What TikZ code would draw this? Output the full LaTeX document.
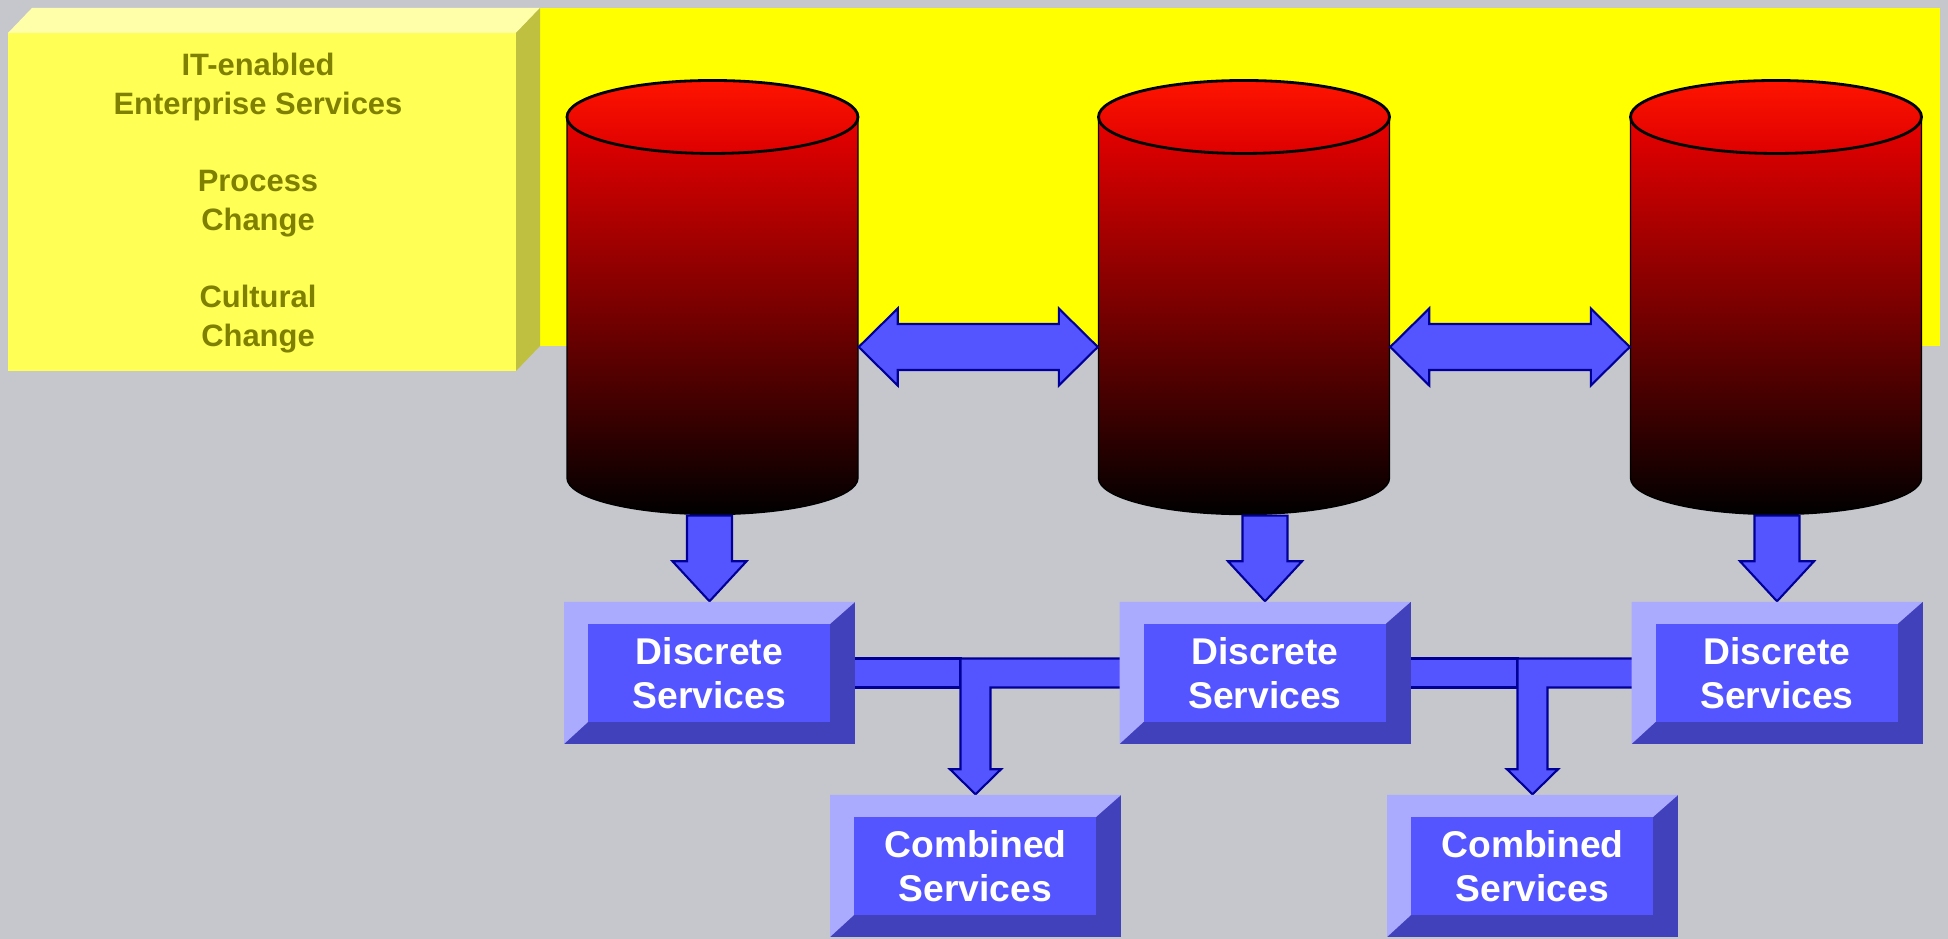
\documentclass[tikz,border=0pt]{standalone}
\usepackage{fontspec}
\setmainfont{Liberation Sans}
\usetikzlibrary{calc}
\pgfdeclarelayer{bg}
\pgfsetlayers{bg,main}
\definecolor{backgray}{HTML}{C6C7CC}
\definecolor{bandyellow}{HTML}{FFFF00}
\definecolor{boxfront}{HTML}{FFFF55}
\definecolor{boxtop}{HTML}{FFFFAA}
\definecolor{boxside}{HTML}{C0C040}
\definecolor{olivetext}{HTML}{808000}
\definecolor{svcface}{HTML}{5555FF}
\definecolor{bevlight}{HTML}{AAAAFF}
\definecolor{bevdark}{HTML}{4141BB}
\definecolor{linkline}{HTML}{000099}
\definecolor{drumtop}{HTML}{FF1400}
\definecolor{drumlow}{HTML}{DD0000}

\begin{document}
\begin{tikzpicture}[
	%baseline,
	scale=1,
	svcbox/.style={fill=bevdark, minimum width=2.91cm, minimum height=1.42cm, inner sep=0pt,
		text=white, align=center, font=\fontsize{10.6}{12.5}\selectfont\bfseries,
		path picture={
			\fill[bevlight] (path picture bounding box.south west) -- (path picture bounding box.north west)
				-- (path picture bounding box.north east) -- ([shift={(-0.25,-0.22)}]path picture bounding box.north east)
				-- ([shift={(0.24,0.22)}]path picture bounding box.south west) -- cycle;
			\fill[svcface] ([shift={(0.24,0.22)}]path picture bounding box.south west)
				rectangle ([shift={(-0.25,-0.22)}]path picture bounding box.north east);
		}},
	link/.style={fill=svcface, draw=linkline, line width=0.6pt, line join=miter},
	]
	\useasboundingbox (0,0) rectangle (19.48,9.39);
	
	\node[svcbox] (d1) at (7.095,2.66) {Discrete\\Services};
	\node[svcbox] (d2) at (12.65,2.66) {Discrete\\Services};
	\node[svcbox] (d3) at (17.77,2.66) {Discrete\\Services};
	\node[svcbox] (c1) at (9.755,0.73) {Combined\\Services};
	\node[svcbox] (c2) at (15.325,0.73) {Combined\\Services};
	\node[text=olivetext, align=center, font=\fontsize{8.8}{11}\selectfont\bfseries] (goals) at (2.58,7.36)
		{IT-enabled\\Enterprise Services\\[11pt]Process\\Change\\[11pt]Cultural\\Change};
	
	\begin{pgfonlayer}{bg}
	\fill[backgray] (0,0) rectangle (19.48,9.39);
	\fill[bandyellow] (5.40,5.93) rectangle (19.40,9.31);
	\fill[boxfront] (0.08,5.68) rectangle (5.16,9.06);
	\fill[boxtop] (0.08,9.06) -- (5.16,9.06) -- (5.40,9.31) -- (0.32,9.31) -- cycle;
	\fill[boxside] (5.16,5.68) -- (5.16,9.06) -- (5.40,9.31) -- (5.40,5.93) -- cycle;
	
	\coordinate (lvl) at (0,5.92);
	\foreach \x/\nm in {7.125/A,12.44/B,17.76/C}{
		\shade[top color=red, bottom color=black] (\x-1.455,8.22) -- (\x-1.455,4.61)
			arc[start angle=180, end angle=360, x radius=1.455, y radius=0.365] -- (\x+1.455,8.22)
			arc[start angle=0, end angle=180, x radius=1.455, y radius=0.365] -- cycle;
		\shade[top color=drumtop, bottom color=drumlow] (\x,8.22) ellipse[x radius=1.455, y radius=0.365];
		\draw[line width=0.4pt] (\x-1.455,8.22) -- (\x-1.455,4.61)
			arc[start angle=180, end angle=360, x radius=1.455, y radius=0.365] -- (\x+1.455,8.22);
		\draw[line width=0.8pt] (\x,8.22) ellipse[x radius=1.455, y radius=0.365];
		\node[minimum width=2.91cm, minimum height=4.345cm, inner sep=0pt] (db\nm) at (\x,6.4125) {};
	}
	
	\draw[link] (dbA.east |- lvl) -- ++(0.39,0.385) -- ++(0,-0.155) -- ($(dbB.west |- lvl)+(-0.39,0.23)$)
		-- ++(0,0.155) -- (dbB.west |- lvl) -- ++(-0.39,-0.385) -- ++(0,0.155)
		-- ($(dbA.east |- lvl)+(0.39,-0.23)$) -- ++(0,-0.155) -- cycle;
	\draw[link] (dbB.east |- lvl) -- ++(0.39,0.385) -- ++(0,-0.155) -- ($(dbC.west |- lvl)+(-0.39,0.23)$)
		-- ++(0,0.155) -- (dbC.west |- lvl) -- ++(-0.39,-0.385) -- ++(0,0.155)
		-- ($(dbB.east |- lvl)+(0.39,-0.23)$) -- ++(0,-0.155) -- cycle;
	
	\draw[link] (d1.north) -- ++(0.37,0.40) -- ++(-0.145,0) -- ($(d1.north |- dbA.south)+(0.225,0)$)
		-- ++(-0.45,0) -- ($(d1.north)+(-0.225,0.40)$) -- ++(-0.145,0) -- cycle;
	\draw[link] (d2.north) -- ++(0.37,0.40) -- ++(-0.145,0) -- ($(d2.north |- dbB.south)+(0.225,0)$)
		-- ++(-0.45,0) -- ($(d2.north)+(-0.225,0.40)$) -- ++(-0.145,0) -- cycle;
	\draw[link] (d3.north) -- ++(0.37,0.40) -- ++(-0.145,0) -- ($(d3.north |- dbC.south)+(0.225,0)$)
		-- ++(-0.45,0) -- ($(d3.north)+(-0.225,0.40)$) -- ++(-0.145,0) -- cycle;
	
	\draw[link] ($(d1.east)+(-0.05,-0.145)$) rectangle ($(c1.north |- d1.east)+(-0.15,0.145)$);
	\draw[link] ($(d2.west)+(0.05,0.145)$) -| ($(c1.north)+(-0.15,0.25)$) -- ++(-0.105,0) -- (c1.north)
		-- ++(0.255,0.25) -- ++(-0.105,0) |- ($(d2.west)+(0.05,-0.145)$) -- cycle;
	\draw[link] ($(d2.east)+(-0.05,-0.145)$) rectangle ($(c2.north |- d2.east)+(-0.15,0.145)$);
	\draw[link] ($(d3.west)+(0.05,0.145)$) -| ($(c2.north)+(-0.15,0.25)$) -- ++(-0.105,0) -- (c2.north)
		-- ++(0.255,0.25) -- ++(-0.105,0) |- ($(d3.west)+(0.05,-0.145)$) -- cycle;
	\end{pgfonlayer}
\end{tikzpicture}
\end{document}
